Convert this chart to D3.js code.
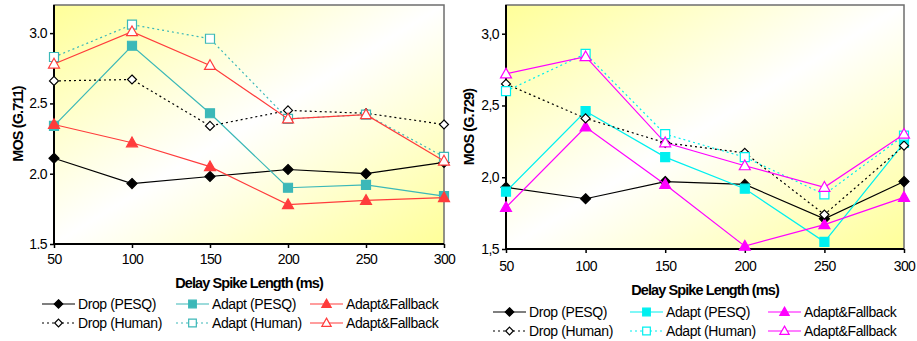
<!DOCTYPE html>
<html>
<head>
<meta charset="utf-8">
<script src="https://cdn.jsdelivr.net/npm/d3@7"></script>
<style>
  body { margin: 0; background: #fff; }
  svg text { font-family: "Liberation Sans", Arial, sans-serif; }
</style>
</head>
<body>
<div id="chart"></div>
<script>
// spike lengths (ms)
var spikes = [50, 100, 150, 200, 250, 300];
var yTicks = [1.5, 2.0, 2.5, 3.0];

// G.711 panel
var g711DropPesq   = [2.11, 1.93, 1.98, 2.03, 2.00, 2.08];
var g711DropHuman  = [2.66, 2.67, 2.34, 2.45, 2.43, 2.35];
var g711AdaptPesq  = [2.34, 2.91, 2.43, 1.90, 1.92, 1.84];
var g711AdaptHuman = [2.83, 3.06, 2.96, 2.39, 2.42, 2.12];
var g711FallPesq   = [2.35, 2.22, 2.05, 1.78, 1.81, 1.83];
var g711FallHuman  = [2.78, 3.01, 2.77, 2.39, 2.42, 2.09];

// G.729 panel
var g729DropPesq   = [1.93, 1.85, 1.97, 1.95, 1.71, 1.97];
var g729DropHuman  = [2.65, 2.41, 2.24, 2.17, 1.74, 2.22];
var g729AdaptPesq  = [1.90, 2.46, 2.14, 1.92, 1.55, 2.24];
var g729AdaptHuman = [2.60, 2.86, 2.30, 2.14, 1.88, 2.29];
var g729FallPesq   = [1.79, 2.35, 1.95, 1.52, 1.67, 1.86];
var g729FallHuman  = [2.72, 2.84, 2.24, 2.08, 1.93, 2.30];

var legendNames = ["Drop (PESQ)", "Adapt (PESQ)", "Adapt&Fallback",
                   "Drop (Human)", "Adapt (Human)", "Adapt&Fallback"];

var svg = d3.select("#chart").append("svg")
  .attr("width", 917).attr("height", 341);

var defs = svg.append("defs");
var grad = defs.append("linearGradient").attr("id", "bg")
  .attr("x1", 0).attr("y1", 0).attr("x2", 1).attr("y2", 1);
grad.append("stop").attr("offset", "0%").attr("stop-color", "#ffff99");
grad.append("stop").attr("offset", "50%").attr("stop-color", "#ffffff");
grad.append("stop").attr("offset", "100%").attr("stop-color", "#ffff99");

function markerPath(shape, s) {
  if (shape == "diamond") {
    return "M0," + (-s) + "L" + s + ",0L0," + s + "L" + (-s) + ",0Z";
  } else if (shape == "square") {
    return "M" + (-s) + "," + (-s) + "h" + (2 * s) + "v" + (2 * s) + "h" + (-2 * s) + "Z";
  } else {
    return "M0," + (-s * 1.15) + "L" + (s * 1.1) + "," + (s * 0.8) + "L" + (-s * 1.1) + "," + (s * 0.8) + "Z";
  }
}

function drawPanel(cfg) {
  var x = d3.scaleLinear().domain([50, 300]).range([cfg.left, cfg.right]);
  var y = d3.scaleLinear().domain([1.5, 3.2]).range([cfg.bottom, cfg.top]);
  var fmt = cfg.comma ? function(d) { return d3.format(".1f")(d).replace(".", ","); } : d3.format(".1f");

  var g = svg.append("g");
  g.append("rect")
    .attr("x", cfg.left).attr("y", cfg.top)
    .attr("width", cfg.right - cfg.left).attr("height", cfg.bottom - cfg.top)
    .attr("fill", "url(#bg)")
    .attr("stroke", "#6e6e6e").attr("stroke-width", 1.5);

  var xAxis = g.append("g")
    .attr("transform", "translate(0," + cfg.bottom + ")")
    .call(d3.axisBottom(x).tickValues(spikes).tickSize(4).tickPadding(cfg.xPad).tickFormat(d3.format("d")));
  var yAxis = g.append("g")
    .attr("transform", "translate(" + cfg.left + ",0)")
    .call(d3.axisLeft(y).tickValues(yTicks).tickSize(4).tickPadding(3).tickFormat(fmt));
  [xAxis, yAxis].forEach(function(a) {
    a.select(".domain").remove();
    a.selectAll("line").attr("stroke", "#000").attr("stroke-width", 1.5);
    a.selectAll("text").attr("font-size", 14).attr("fill", "#000")
      .attr("letter-spacing", "-0.6px")
      .attr("font-family", "Liberation Sans, Arial, sans-serif");
  });
  g.append("line").attr("x1", cfg.left).attr("x2", cfg.left)
    .attr("y1", cfg.top).attr("y2", cfg.bottom).attr("stroke", "#000").attr("stroke-width", 2);
  g.append("line").attr("x1", cfg.left).attr("x2", cfg.right)
    .attr("y1", cfg.bottom).attr("y2", cfg.bottom).attr("stroke", "#000").attr("stroke-width", 2);

  var line = d3.line()
    .x(function(d, i) { return x(spikes[i]); })
    .y(function(d) { return y(d); });

  cfg.series.forEach(function(s) {
    g.append("path")
      .attr("d", line(s.values))
      .attr("fill", "none")
      .attr("stroke", s.color)
      .attr("stroke-width", 1.2)
      .attr("stroke-dasharray", s.dash ? "2,3" : null);
    g.selectAll(null).data(s.values).enter().append("path")
      .attr("d", markerPath(s.shape, s.size))
      .attr("transform", function(d, i) { return "translate(" + x(spikes[i]) + "," + y(d) + ")"; })
      .attr("fill", s.filled ? s.color : "#fff")
      .attr("stroke", s.color)
      .attr("stroke-width", 1.2);
  });

  g.append("text")
    .attr("transform", "translate(" + cfg.yLabelX + "," + cfg.yLabelY + ") rotate(-90)")
    .attr("text-anchor", "middle").attr("dy", "0.35em")
    .attr("font-size", 14.5).attr("font-weight", "bold")
    .attr("letter-spacing", "-0.9px")
    .text(cfg.yLabel);

  g.append("text")
    .attr("x", (cfg.left + cfg.right) / 2).attr("y", cfg.xTitleY)
    .attr("text-anchor", "middle").attr("dy", "0.35em")
    .attr("font-size", 14.5).attr("font-weight", "bold")
    .attr("letter-spacing", "-0.9px")
    .text("Delay Spike Length (ms)");

  // legend
  cfg.series.forEach(function(s, i) {
    var col = i % 3, row = Math.floor(i / 3);
    var lx = cfg.legendCols[col], ly = cfg.legendRows[row];
    var lg = g.append("g");
    lg.append("line")
      .attr("x1", lx).attr("x2", lx + 33).attr("y1", ly).attr("y2", ly)
      .attr("stroke", s.color).attr("stroke-width", 1.2)
      .attr("stroke-dasharray", s.dash ? "2,3" : null);
    lg.append("path")
      .attr("d", markerPath(s.shape, s.size * 0.85))
      .attr("transform", "translate(" + (lx + 16.5) + "," + ly + ")")
      .attr("fill", s.filled ? s.color : "#fff")
      .attr("stroke", s.color).attr("stroke-width", 1.2);
    lg.append("text")
      .attr("x", lx + 36).attr("y", ly).attr("dy", "0.35em")
      .attr("font-size", 14).attr("letter-spacing", "-0.4px")
      .text(legendNames[i]);
  });
}

var teal = "#3cb8b8", red = "#ff3c3c";
drawPanel({
  left: 54, right: 444, top: 5, bottom: 244, comma: false, xPad: 6,
  yLabel: "MOS (G.711)", yLabelX: 18, yLabelY: 124, xTitleY: 283,
  legendCols: [42, 176, 310], legendRows: [304, 323],
  series: [
    { values: g711DropPesq, color: "#000", shape: "diamond", size: 5, filled: true, dash: false },
    { values: g711AdaptPesq, color: teal, shape: "square", size: 4.5, filled: true, dash: false },
    { values: g711FallPesq, color: red, shape: "triangle", size: 5, filled: true, dash: false },
    { values: g711DropHuman, color: "#000", shape: "diamond", size: 4.5, filled: false, dash: true },
    { values: g711AdaptHuman, color: teal, shape: "square", size: 4.5, filled: false, dash: true },
    { values: g711FallHuman, color: red, shape: "triangle", size: 5, filled: false, dash: false }
  ]
});

var cyan = "#00f0f0", magenta = "#ff00ff";
drawPanel({
  left: 506, right: 904, top: 5, bottom: 249, comma: true, xPad: 8,
  yLabel: "MOS (G.729)", yLabelX: 469, yLabelY: 127, xTitleY: 290,
  legendCols: [493, 630, 768], legendRows: [312, 331],
  series: [
    { values: g729DropPesq, color: "#000", shape: "diamond", size: 5, filled: true, dash: false },
    { values: g729AdaptPesq, color: cyan, shape: "square", size: 4.5, filled: true, dash: false },
    { values: g729FallPesq, color: magenta, shape: "triangle", size: 5, filled: true, dash: false },
    { values: g729DropHuman, color: "#000", shape: "diamond", size: 4.5, filled: false, dash: true },
    { values: g729AdaptHuman, color: cyan, shape: "square", size: 4.5, filled: false, dash: true },
    { values: g729FallHuman, color: magenta, shape: "triangle", size: 5, filled: false, dash: false }
  ]
});
</script>
</body>
</html>
